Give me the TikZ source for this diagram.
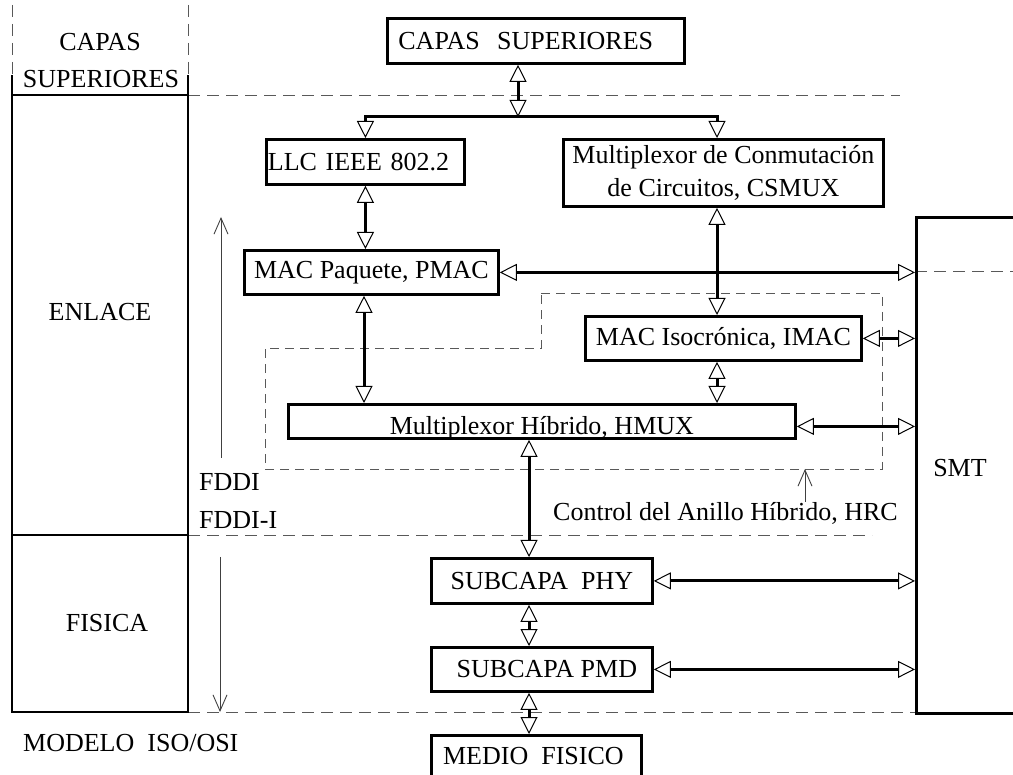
\documentclass[tikz,border=0pt]{standalone}
\usepackage{fontspec}
\setmainfont{Liberation Serif}
\usetikzlibrary{arrows.meta}
\begin{document}
\begin{tikzpicture}[x=1pt,y=-1pt,
  font=\fontsize{26}{33}\selectfont,
  lw/.style={line width=2.8pt},
  box/.style={draw, line width=2.8pt, inner sep=0pt, anchor=north west},
  link/.style={line width=3pt, {Triangle[length=17pt,width=17pt,line width=1pt,fill=white]}-{Triangle[length=17pt,width=17pt,line width=1pt,fill=white]}},
  thinarrow/.style={line width=0.9pt, black!75, -{Straight Barb[length=16pt,width=14pt,line width=0.9pt]}},
  dash1/.style={black!65, line width=0.9pt, dash pattern=on 12pt off 7pt},
  dash2/.style={black!65, line width=0.9pt, dash pattern=on 9pt off 6pt},
  lbl/.style={inner sep=0pt}
]
\useasboundingbox (0,0) rectangle (1013,775);

% ---------- dashed guide lines ----------
\draw[dash1] (12,5) -- (12,75);
\draw[dash1] (188,5) -- (188,75);
\draw[dash1] (188,95) -- (900,95);
\draw[dash1] (915,271) -- (1013,271);
\draw[dash1] (188,535) -- (872,535);
\draw[dash1] (188,712) -- (915,712);
% HRC region
\draw[dash2] (541,293) -- (882,293) -- (882,469) -- (265,469) -- (265,348) -- (541,348) -- cycle;

% ---------- ISO/OSI column ----------
\draw[lw] (12,75) -- (12,712) -- (188,712) -- (188,75);
\draw[lw] (12,95) -- (188,95);
\draw[lw] (12,535) -- (188,535);
\node[lbl] (capas) at (100,42) {CAPAS};
\node[lbl] (super) at (101,79) {SUPERIORES};
\node[lbl] (enlace) at (100,312) {ENLACE};
\node[lbl] (fisica) at (107,623) {FISICA};
\node[lbl, anchor=west] (modelo) at (23,743) {MODELO\ \ ISO/OSI};

% FDDI arrows
\coordinate (fu0) at (221,458);
\coordinate (fu1) at (221,217);
\coordinate (fd0) at (220,557);
\coordinate (fd1) at (220,712);
\draw[thinarrow] (fu0) -- (fu1);
\draw[thinarrow] (fd0) -- (fd1);
\node[lbl, anchor=west] (fddi) at (199,482) {FDDI};
\node[lbl, anchor=west] (fddii) at (199,520) {FDDI-I};

% ---------- boxes ----------
\node[box, minimum width=297pt, minimum height=45pt, text width=275pt, inner xsep=11pt, align=left] (top) at (386,17) {CAPAS\ \ SUPERIORES};
\node[box, minimum width=198pt, minimum height=45pt, text width=195pt, inner xsep=1.5pt, align=left] (llc) at (265,138) {LLC IEEE 802.2};
\node[box, minimum width=320pt, minimum height=67pt, align=center] (csmux) at (562,138) {Multiplexor de Conmutación\\de Circuitos, CSMUX};
\node[box, minimum width=254pt, minimum height=44pt] (pmac) at (243,249) {MAC Paquete, PMAC};
\node[box, minimum width=276pt, minimum height=44pt] (imac) at (584,315) {MAC Isocrónica, IMAC};
\node[box, minimum width=507pt, minimum height=34pt, text height=27pt, text depth=0pt] (hmux) at (287,403) {Multiplexor Híbrido, HMUX};
\node[box, minimum width=221pt, minimum height=45pt] (phy) at (430,557) {SUBCAPA\ \ PHY};
\node[box, minimum width=221pt, minimum height=44pt] (pmd) at (430,646) {\hspace*{10pt}SUBCAPA PMD};
\node[box, minimum width=210pt, minimum height=42pt] (medio) at (430,734) {MEDIO\ \ FISICO\hspace*{6pt}};
\node[box, minimum width=200pt, minimum height=496pt] (smt) at (915,216) {};
\node[lbl] (smtl) at (960,468) {SMT};

% HRC label
\node[lbl, anchor=west] (hrc) at (553,513) {Control del Anillo Híbrido, HRC};
\coordinate (hrc0) at (805,502);
\coordinate (hrc1) at (805,469);
\draw[thinarrow] (hrc0) -- (hrc1);

% ---------- connectors ----------
\coordinate (jc) at (518,117);
\coordinate (xl) at (364,0);
\coordinate (xr) at (717,0);
\coordinate (xb) at (529,0);
\draw[link] (top.south -| jc) -- (jc);
\draw[link, line join=miter] (llc.north) -- (llc.north |- jc) -- (jc -| xr) -- (csmux.north -| xr);
\draw[link] (llc.south) -- (llc.south |- pmac.north);
\draw[link] (pmac.south -| xl) -- (hmux.north -| xl);
\draw[link] (pmac.east) -- (pmac.east -| smt.west);
\draw[link] (csmux.south -| xr) -- (imac.north -| xr);
\draw[link] (imac.south -| xr) -- (hmux.north -| xr);
\draw[link] (imac.east) -- (imac.east -| smt.west);
\draw[link] ([yshift=-5pt]hmux.east) -- ([yshift=-5pt]hmux.east -| smt.west);
\draw[link] (hmux.south -| xb) -- (phy.north -| xb);
\draw[link] (phy.south -| xb) -- (pmd.north -| xb);
\draw[link] (pmd.south -| xb) -- (medio.north -| xb);
\draw[link] (phy.east) -- (phy.east -| smt.west);
\draw[link] (pmd.east) -- (pmd.east -| smt.west);
\end{tikzpicture}
\end{document}
